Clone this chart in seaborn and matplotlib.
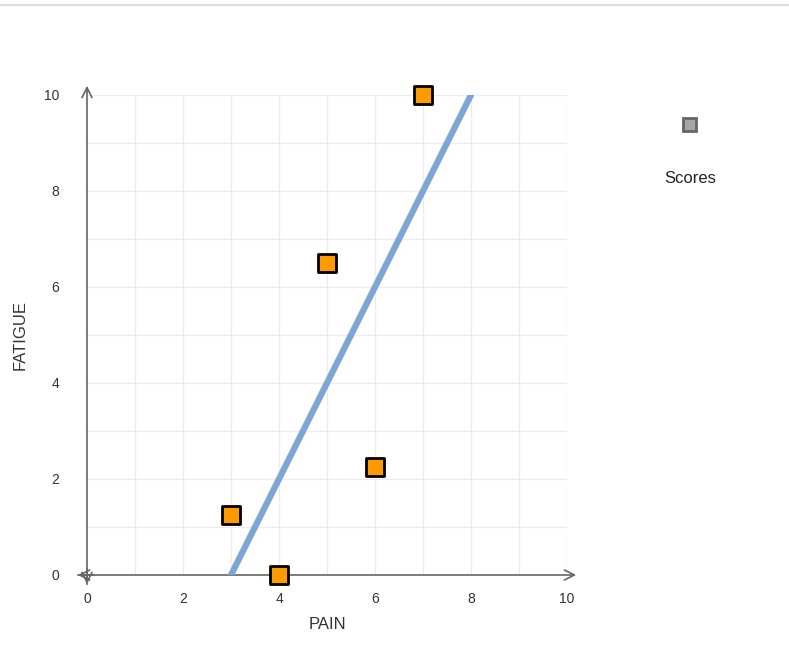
import seaborn as sns
import matplotlib.pyplot as plt
import pandas as pd

# Data
pain = [3, 4, 5, 6, 7]
fatigue = [1.25, 0, 6.5, 2.25, 10]
trend_x = [3, 8]
trend_y = [0, 10]

df = pd.DataFrame({"PAIN": pain, "FATIGUE": fatigue})
trend = pd.DataFrame({"x": trend_x, "y": trend_y})

sns.set_style("white")
plt.rcParams["font.family"] = ["Liberation Sans", "DejaVu Sans"]

fig = plt.figure(figsize=(7.89, 6.59), dpi=100)
ax = fig.add_axes([87 / 789, 84 / 659, 480 / 789, 480 / 659])

# Grid
for v in range(1, 11):
    ax.axvline(v, color="#ececec", lw=1, zorder=0)
    ax.axhline(v, color="#ececec", lw=1, zorder=0)

# Axis arrows
arrow = dict(arrowstyle="->", color="#666666", lw=1.2, mutation_scale=18)
ax.annotate("", xy=(10.25, 0), xytext=(-0.25, 0), xycoords="data", arrowprops=arrow, annotation_clip=False)
ax.annotate("", xy=(-0.25, 0), xytext=(0.2, 0), xycoords="data", arrowprops=arrow, annotation_clip=False)
ax.annotate("", xy=(0, 10.25), xytext=(0, -0.25), xycoords="data", arrowprops=arrow, annotation_clip=False)
ax.annotate("", xy=(0, -0.25), xytext=(0, 0.2), xycoords="data", arrowprops=arrow, annotation_clip=False)

sns.lineplot(data=trend, x="x", y="y", color="#7ba7d2", lw=4.5, ax=ax, zorder=4)
sns.scatterplot(data=df, x="PAIN", y="FATIGUE", marker="s", s=160, color="#ff9900",
                edgecolor="black", linewidth=2, ax=ax, zorder=5, clip_on=False)

ax.set_xlim(0, 10)
ax.set_ylim(0, 10)
ax.set_xticks(range(0, 11, 2))
ax.set_yticks(range(0, 11, 2))
ax.tick_params(axis="x", length=0, labelsize=10, colors="#333333", pad=12)
ax.tick_params(axis="y", length=0, labelsize=10, colors="#333333", pad=20)
for s in ax.spines.values():
    s.set_visible(False)

ax.set_xlabel("PAIN", fontsize=12, color="#333333", labelpad=8)
ax.set_ylabel("FATIGUE", fontsize=12, color="#333333", labelpad=12)

# Legend
fig.patches.append(plt.Rectangle((683 / 789, 1 - 131 / 659), 13 / 789, 13 / 659,
                                 transform=fig.transFigure, facecolor="#a6a6a6",
                                 edgecolor="#666666", lw=2))
fig.text(690 / 789, 1 - 179 / 659, "Scores", ha="center", va="center", fontsize=12, color="#222222")

# Top border
fig.add_artist(plt.Line2D([0, 1], [1 - 5 / 659] * 2, color="#dddddd", lw=1.5))

plt.savefig("out.png", dpi=100)
